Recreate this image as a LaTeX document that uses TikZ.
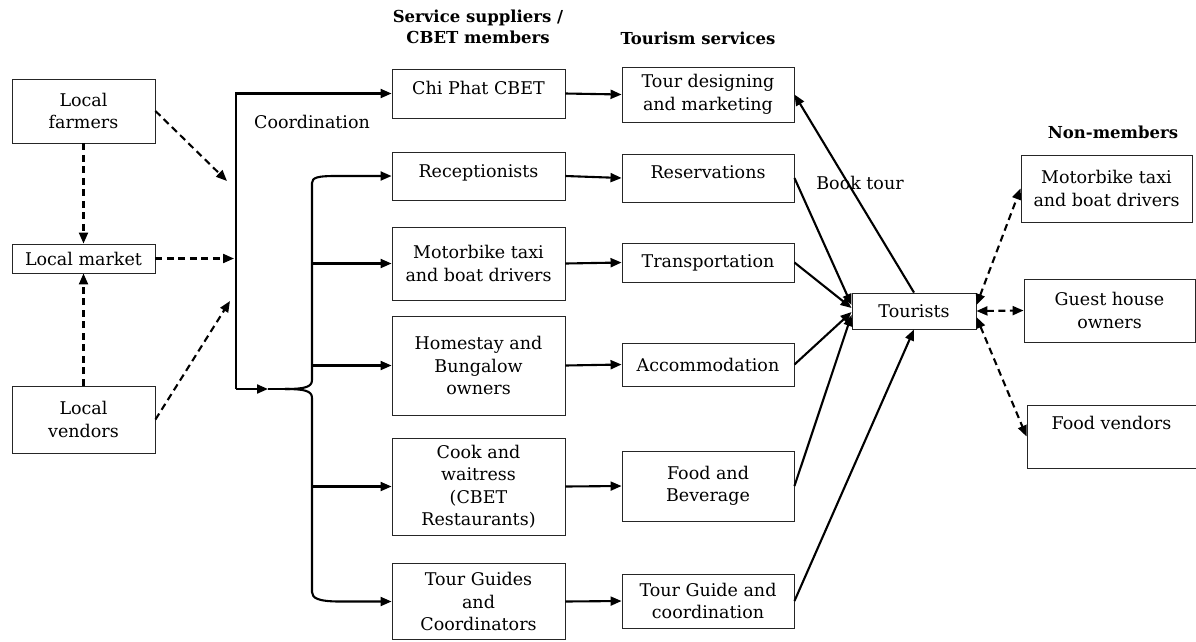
\documentclass[tikz,border=0pt]{standalone}
\usepackage{fontspec}
\setmainfont{DejaVu Serif}
\usetikzlibrary{arrows.meta,calc}
\begin{document}
\begin{tikzpicture}[x=1pt,y=-1pt,
  bx/.style={draw=black!85, line width=0.9pt, rectangle, align=center, inner sep=2pt,
    font=\fontsize{17.5}{22.5}\selectfont},
  up/.style={text height=13pt, text depth=#1},
  hd/.style={font=\fontsize{16.5}{21}\selectfont\bfseries, align=center},
  lbl/.style={font=\fontsize{17.5}{22.5}\selectfont},
  tip/.style={-{Triangle[length=11pt,width=9pt]}},
  ln/.style={line width=2.1pt},
  arr/.style={ln, tip},
  darr/.style={ln, dash pattern=on 7pt off 4.5pt, tip},
  ddarr/.style={ln, dash pattern=on 7pt off 4.5pt, {Triangle[length=11pt,width=9pt]}-{Triangle[length=11pt,width=9pt]}},
]
\useasboundingbox (0,0) rectangle (1196,641);

% left column
\node[bx, minimum width=143pt, minimum height=64pt] (farm) at (83.5,111) {Local\\farmers};
\node[bx, minimum width=143pt, minimum height=29pt] (mkt) at (83.5,258.5) {Local market};
\node[bx, minimum width=143pt, minimum height=67pt] (vend) at (83.5,419.5) {Local\\vendors};

% headers
\node[hd] (h1) at (478,27) {Service suppliers /\\CBET members};
\node[hd] (h2) at (698,38) {Tourism services};
\node[hd] (h3) at (1113,132) {Non-members};
\node[lbl] (coord) at (312,122) {Coordination};
\node[lbl] (book) at (860,183) {Book tour};

% suppliers
\node[bx, up=11pt, minimum width=173pt, minimum height=49pt] (chi) at (478.5,93.5) {Chi Phat CBET};
\node[bx, up=11pt, minimum width=173pt, minimum height=48pt] (rec) at (478.5,176) {Receptionists};
\node[bx, minimum width=173pt, minimum height=73pt] (mb) at (478.5,263.5) {Motorbike taxi\\and boat drivers};
\node[bx, minimum width=173pt, minimum height=99pt] (hs) at (478.5,365.5) {Homestay and\\Bungalow\\owners};
\node[bx, minimum width=173pt, minimum height=97pt] (ck) at (478.5,486.5) {Cook and\\waitress\\(CBET\\Restaurants)};
\node[bx, minimum width=173pt, minimum height=76pt] (tg) at (478.5,601.5) {Tour Guides\\and\\Coordinators};

% services
\node[bx, minimum width=172pt, minimum height=55pt] (tdm) at (708,94.5) {Tour designing\\and marketing};
\node[bx, up=13pt, minimum width=172pt, minimum height=48pt] (res) at (708,178) {Reservations};
\node[bx, minimum width=172pt, minimum height=39pt] (trn) at (708,262.5) {Transportation};
\node[bx, minimum width=172pt, minimum height=43pt] (acc) at (708,364.5) {Accommodation};
\node[bx, minimum width=172pt, minimum height=70pt] (fb) at (708,486) {Food and\\Beverage};
\node[bx, minimum width=172pt, minimum height=54pt] (tgc) at (708,601) {Tour Guide and\\coordination};

% tourists
\node[bx, minimum width=124pt, minimum height=36pt] (tour) at (914,311) {Tourists};

% non-members
\node[bx, minimum width=171pt, minimum height=67pt] (nm1) at (1106.5,188.5) {Motorbike taxi\\and boat drivers};
\node[bx, minimum width=171pt, minimum height=63pt] (nm2) at (1109.5,310.5) {Guest house\\owners};
\node[bx, up=28pt, minimum width=169pt, minimum height=63pt] (nm3) at (1111.5,436.5) {Food vendors};

% left dashed arrows
\coordinate (cf) at (227,181);
\coordinate (cm) at (234,258.5);
\coordinate (cv) at (230,301);
\draw[darr] (farm.south) -- (mkt.north);
\draw[darr] (vend.north) -- (mkt.south);
\draw[darr] (farm.east) -- (cf);
\draw[darr] (mkt.east) -- (cm);
\draw[darr] (vend.east) -- (cv);

% spine
\coordinate (spB) at (236,389);
\coordinate (ba) at (268,389);
\coordinate (bc) at (285,389);
\draw[arr] (spB) -- (236,93.5) -- (chi.west);
\draw[arr] (spB) -- (ba);
\draw[ln] (ba) -- (bc);
\draw[arr] (bc) .. controls (305,389) and (312,387) .. (312,380) -- (312,183)
   .. controls (312,177.5) and (318,176) .. (335,176) -- (rec.west);
\draw[arr] (bc) .. controls (305,389) and (312,391) .. (312,398) -- (312,592)
   .. controls (312,598) and (318,601.5) .. (340,601.5) -- (tg.west);
\coordinate (j1) at (312,263.5);
\coordinate (j2) at (312,365.5);
\coordinate (j3) at (312,486.5);
\draw[arr] (j1) -- (mb.west);
\draw[arr] (j2) -- (hs.west);
\draw[arr] (j3) -- (ck.west);

% suppliers -> services
\draw[arr] (chi.east) -- (tdm.west);
\draw[arr] (rec.east) -- (res.west);
\draw[arr] (mb.east) -- (trn.west);
\draw[arr] (hs.east) -- (acc.west);
\draw[arr] (ck.east) -- (fb.west);
\draw[arr] (tg.east) -- (tgc.west);

% services -> tourists
\draw[arr] (res.east) -- ($(tour.west)+(0,-6)$);
\draw[arr] (trn.east) -- ($(tour.west)+(0,-3)$);
\draw[arr] (acc.east) -- ($(tour.west)+(0,1)$);
\draw[arr] (fb.east) -- ($(tour.west)+(0,4)$);
\draw[arr] (tgc.east) -- (tour.south);
\draw[arr] (tour.north) -- (tdm.east);

% non-members
\draw[ddarr] ($(tour.east)+(0,-6)$) -- (nm1.west);
\draw[ddarr] (tour.east) -- (nm2.west);
\draw[ddarr] ($(tour.east)+(0,6)$) -- (nm3.west);
\end{tikzpicture}
\end{document}
